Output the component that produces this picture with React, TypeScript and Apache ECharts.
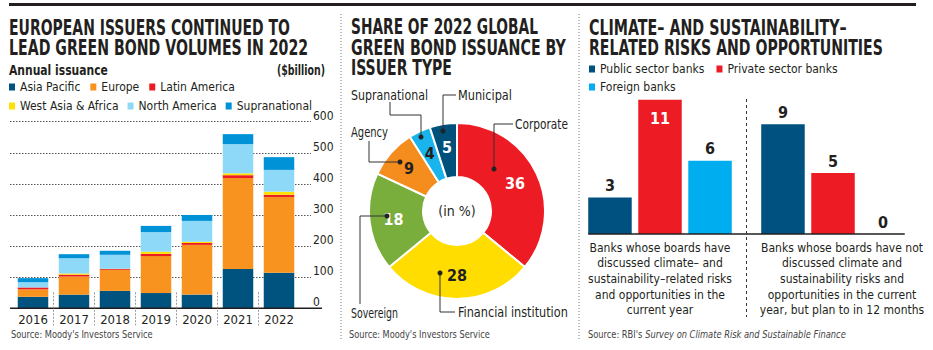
import React, { useEffect, useRef } from "react";
import * as echarts from "echarts";

// ---------- Left panel: annual green bond issuance ($billion) ----------
const years = ["2016", "2017", "2018", "2019", "2020", "2021", "2022"];
const asiaPacific = [37, 44, 56, 49, 44, 126, 114];
const europe = [24, 58, 67, 119, 160, 293, 244];
const latinAmerica = [6, 6, 3, 7, 6, 9, 7];
const westAsiaAfrica = [0, 4, 1, 7, 4, 6, 10];
const northAmerica = [17, 49, 45, 63, 67, 94, 70];
const supranational = [13, 13, 13, 20, 19, 32, 41];
const regionNames = ["Asia Pacific", "Europe", "Latin America", "West Asia & Africa", "North America", "Supranational"];

// ---------- Middle panel: share of 2022 issuance by issuer type (%) ----------
const issuerTypes = ["Corporate", "Financial institution", "Sovereign", "Agency", "Supranational", "Municipal"];
const issuerShares = [36, 28, 18, 9, 4, 5];

// ---------- Right panel: banks ----------
const bankCategories = [
  "Banks whose boards have\ndiscussed climate– and\nsustainability–related risks\nand opportunities in the\ncurrent year",
  "Banks whose boards have not\ndiscussed climate and\nsustainability risks and\nopportunities in the current\nyear, but plan to in 12 months",
];
const bankGroups = ["Public sector banks", "Private sector banks", "Foreign banks"];
const publicSectorBanks = [3, 9];
const privateSectorBanks = [11, 5];
const foreignBanks = [6, 0];

// ---------- styles ----------
const COND = "'DejaVu Sans Condensed', 'Liberation Sans Narrow', sans-serif";
const DARK = "#231f20";
const regionColors = ["#00527f", "#f7931e", "#ed1c24", "#ffe100", "#8ed8f8", "#0092d6"];
const pieColors = ["#ed1c24", "#ffdd00", "#7aae3c", "#f58c1e", "#1ab4ec", "#00507c"];
const pieLabelColors = ["#ffffff", DARK, "#ffffff", DARK, DARK, "#ffffff"];
const bankColors = ["#00517f", "#ed1c24", "#00aeef"];

const PIE_C = [457, 211];
// leader lines (offsets from pie centre), label anchors and label widths
const leaders: { pts: number[][]; label: number[]; w: number }[] = [
  { pts: [[37, -42], [37, -87], [56, -87]], label: [58, -87], w: 53 },
  { pts: [[-17, 62], [-17, 101], [-2, 101]], label: [1, 101], w: 110 },
  { pts: [[-70, 5], [-97, 5], [-97, 93]], label: [-106, 102], w: 47 },
  { pts: [[-57, -49], [-88, -49], [-88, -70]], label: [-106, -79], w: 37 },
  { pts: [[-36, -74], [-36, -96], [-67, -96], [-67, -109]], label: [-106, -116], w: 77 },
  { pts: [[-14, -80], [-14, -116], [-1, -116]], label: [1, -116], w: 54 },
];

let measureCtx: CanvasRenderingContext2D | null = null;
function measure(t: string, font: string) {
  if (!measureCtx) measureCtx = document.createElement("canvas").getContext("2d");
  measureCtx!.font = font;
  return measureCtx!.measureText(t).width;
}

function text(x: number, y: number, t: string, o: any = {}) {
  const fontSize = o.fontSize || 14;
  const fontWeight = o.fontWeight || "normal";
  const fontStyle = o.fontStyle || "normal";
  const fam = o.fontFamily || COND;
  let scaleX = 1;
  if (o.w) {
    const mw = measure(t, `${fontStyle} ${fontWeight} ${fontSize}px ${fam}`);
    if (mw > 0) scaleX = o.w / mw;
  }
  return {
    type: "text",
    x,
    y,
    scaleX,
    z: 20,
    style: {
      text: t,
      fill: o.fill || DARK,
      fontFamily: fam,
      fontSize,
      fontWeight,
      fontStyle,
      textAlign: o.align || "left",
      textVerticalAlign: o.valign || "middle",
    },
  };
}

export default function App() {
  const ref = useRef<HTMLDivElement>(null);
  useEffect(() => {
    document.body.style.margin = "0";
    const chart = echarts.init(ref.current!, undefined, { renderer: "svg" });
    const regionData = [asiaPacific, europe, latinAmerica, westAsiaAfrica, northAmerica, supranational];
    const legendText = { fontFamily: COND, fontSize: 12, color: DARK };
    const legendBase = { itemWidth: 6, itemHeight: 7, icon: "rect", padding: 0, textStyle: legendText, selectedMode: false };

    const option: any = {
      animation: false,
      textStyle: { fontFamily: COND },
      grid: [
        { left: 12.5, right: 933 - 299.5, top: 121.7, bottom: 350 - 308.3 },
        { left: 10, right: 933 - 311, top: 121.7, bottom: 350 - 308.3 },
        { left: 573.5, right: 933 - 919.5, top: 234 - 12 * 12.2, bottom: 350 - 234 },
      ],
      xAxis: [
        {
          type: "category",
          gridIndex: 0,
          data: years,
          axisLine: { show: false },
          axisTick: { show: false },
          axisLabel: { interval: 0, color: DARK, fontSize: 13, fontFamily: COND, margin: 5 },
        },
        { type: "value", gridIndex: 1, min: 0, max: 1, show: false },
        {
          type: "category",
          gridIndex: 2,
          data: bankCategories,
          axisLine: { show: false },
          axisTick: { show: false },
          axisLabel: {
            interval: 0,
            margin: 6,
            color: DARK,
            fontSize: 12,
            fontFamily: COND,
            lineHeight: 15.6,
            formatter: (v: string, i: number) => (i === 1 ? `{b|${v}}` : `{a|${v}}`),
            rich: {
              a: { fontSize: 12, fontFamily: COND, color: DARK, lineHeight: 15.6, align: "center" },
              b: { fontSize: 12, fontFamily: COND, color: DARK, lineHeight: 15.6, align: "center", padding: [0, 0, 0, 18] },
            },
          },
        },
      ],
      yAxis: [
        { type: "value", gridIndex: 0, min: 0, max: 600, show: false },
        {
          type: "value",
          gridIndex: 1,
          min: 0,
          max: 600,
          interval: 100,
          position: "right",
          axisLine: { show: false },
          axisTick: { show: false },
          splitLine: { lineStyle: { color: "#555", type: [1.5, 1.5], width: 1 } },
          axisLabel: { color: DARK, fontSize: 12, fontFamily: COND, margin: 2, verticalAlign: "bottom" },
        },
        { type: "value", gridIndex: 2, min: 0, max: 12, show: false },
      ],
      legend: [
        { ...legendBase, data: regionNames.slice(0, 3), left: 9, top: 81, itemGap: 10 },
        { ...legendBase, data: regionNames.slice(3), left: 9, top: 100, itemGap: 9 },
        { ...legendBase, data: bankGroups.slice(0, 2), left: 589, top: 63, itemGap: 12 },
        { ...legendBase, data: bankGroups.slice(2), left: 589, top: 81, itemGap: 12 },
      ],
      series: [
        ...regionNames.map((name, k) => ({
          type: "bar",
          name,
          xAxisIndex: 0,
          yAxisIndex: 0,
          stack: "total",
          barWidth: 30.5,
          itemStyle: { color: regionColors[k] },
          data: regionData[k],
        })),
        {
          type: "pie",
          name: "issuer",
          center: PIE_C,
          radius: [34, 88],
          startAngle: 90,
          clockwise: true,
          itemStyle: { borderColor: "#fff", borderWidth: 2 },
          label: {
            show: true,
            position: "inside",
            formatter: "{c}",
            fontFamily: COND,
            fontWeight: "bold",
            fontSize: 16,
          },
          labelLine: { show: false },
          data: issuerTypes.map((name, i) => ({
            name,
            value: issuerShares[i],
            itemStyle: { color: pieColors[i] },
            label: { color: pieLabelColors[i] },
          })),
        },
        ...[publicSectorBanks, privateSectorBanks, foreignBanks].map((vals, k) => ({
          type: "bar",
          name: bankGroups[k],
          xAxisIndex: 2,
          yAxisIndex: 2,
          barWidth: 43.5,
          barGap: "15%",
          itemStyle: { color: bankColors[k] },
          label: {
            show: true,
            position: "top",
            distance: 4,
            color: DARK,
            fontFamily: COND,
            fontWeight: "bold",
            fontSize: 16,
          },
          data: vals.map((v) =>
            v > 10 ? { value: v, label: { position: "insideTop", distance: 11, color: "#fff" } } : v
          ),
        })),
      ],
    };
    chart.setOption(option);

    // ----- decorations -----
    const g: any[] = [];
    g.push({ type: "rect", shape: { x: 9, y: 3, width: 907, height: 3 }, style: { fill: DARK }, z: 20 });
    [341, 579].forEach((x) =>
      g.push({
        type: "line",
        shape: { x1: x, y1: 14, x2: x, y2: 341 },
        style: { stroke: "#777", lineWidth: 1, lineDash: [1, 2] },
        z: 20,
      })
    );
    // titles (bold, horizontally condensed to the reference widths)
    const T = { fontSize: 21, fontWeight: "bold" };
    g.push(text(9, 27.5, "EUROPEAN ISSUERS CONTINUED TO", { ...T, w: 281 }));
    g.push(text(9, 47.5, "LEAD GREEN BOND VOLUMES IN 2022", { ...T, w: 299 }));
    g.push(text(351, 27, "SHARE OF 2022 GLOBAL", { ...T, w: 187 }));
    g.push(text(351, 47.5, "GREEN BOND ISSUANCE BY", { ...T, w: 215 }));
    g.push(text(351, 68, "ISSUER TYPE", { ...T, w: 101 }));
    g.push(text(589, 28, "CLIMATE– AND SUSTAINABILITY–", { ...T, w: 258 }));
    g.push(text(589, 47.5, "RELATED RISKS AND OPPORTUNITIES", { ...T, w: 294 }));
    g.push(text(9, 70, "Annual issuance", { fontSize: 14, fontWeight: "bold", w: 99 }));
    g.push(text(325, 70, "($billion)", { fontSize: 14, fontWeight: "bold", align: "right", w: 48 }));
    // sources
    const S = { fontSize: 11, fill: "#444" };
    g.push(text(11, 334, "Source: Moody's Investors Service", { ...S, w: 142 }));
    g.push(text(349, 334, "Source: Moody's Investors Service", { ...S, w: 141 }));
    const srcA = "Source: RBI's ";
    const srcB = "Survey on Climate Risk and Sustainable Finance";
    const wa = measure(srcA, `normal normal 11px ${COND}`);
    const wb = measure(srcB, `italic normal 11px ${COND}`);
    g.push({
      type: "text",
      x: 588,
      y: 334,
      scaleX: 258 / (wa + wb),
      z: 20,
      style: {
        text: `{n|${srcA}}{i|${srcB}}`,
        textVerticalAlign: "middle",
        rich: {
          n: { fontSize: 11, fill: "#444", fontFamily: COND },
          i: { fontSize: 11, fill: "#444", fontFamily: COND, fontStyle: "italic" },
        },
      },
    });

    // left chart baseline + category separators
    const y0 = chart.convertToPixel({ yAxisIndex: 0 }, 0) as number;
    g.push({ type: "line", shape: { x1: 10, y1: y0, x2: 322, y2: y0 }, style: { stroke: DARK, lineWidth: 1.5 }, z: 15 });
    for (let i = 0; i < years.length - 1; i++) {
      const xa = chart.convertToPixel({ xAxisIndex: 0 }, i) as number;
      const xb = chart.convertToPixel({ xAxisIndex: 0 }, i + 1) as number;
      const x = (xa + xb) / 2;
      g.push({
        type: "line",
        shape: { x1: x, y1: y0 - 16, x2: x, y2: y0 + 17 },
        style: { stroke: "#999", lineWidth: 1, lineDash: [2, 1.5] },
        z: 15,
      });
    }

    // pie: centre note, leader lines, names
    g.push(text(PIE_C[0], PIE_C[1], "(in %)", { fontSize: 14, align: "center" }));
    leaders.forEach((L, i) => {
      const pts = L.pts.map((p) => [PIE_C[0] + p[0], PIE_C[1] + p[1]]);
      g.push({ type: "polyline", shape: { points: pts }, style: { stroke: "#333", lineWidth: 1, fill: null }, z: 15 });
      g.push({ type: "circle", shape: { cx: pts[0][0], cy: pts[0][1], r: 2.5 }, style: { fill: "#222" }, z: 16 });
      g.push(text(PIE_C[0] + L.label[0], PIE_C[1] + L.label[1], issuerTypes[i], { fontSize: 14, w: L.w }));
    });

    // right chart baseline + divider
    const yr0 = chart.convertToPixel({ yAxisIndex: 2 }, 0) as number;
    const c0 = chart.convertToPixel({ xAxisIndex: 2 }, 0) as number;
    const c1 = chart.convertToPixel({ xAxisIndex: 2 }, 1) as number;
    const half = 1.5 * 43.5 + 0.15 * 43.5;
    g.push({ type: "line", shape: { x1: c0 - half, y1: yr0, x2: c1 + half, y2: yr0 }, style: { stroke: DARK, lineWidth: 1.5 }, z: 15 });
    const xm = (c0 + c1) / 2;
    g.push({ type: "line", shape: { x1: xm, y1: 99, x2: xm, y2: 317 }, style: { stroke: "#333", lineWidth: 1, lineDash: [3, 3] }, z: 15 });

    chart.setOption({ graphic: g });
    return () => chart.dispose();
  }, []);
  return <div ref={ref} style={{ position: "fixed", left: 0, top: 0, width: 933, height: 350, background: "#fff" }} />;
}
